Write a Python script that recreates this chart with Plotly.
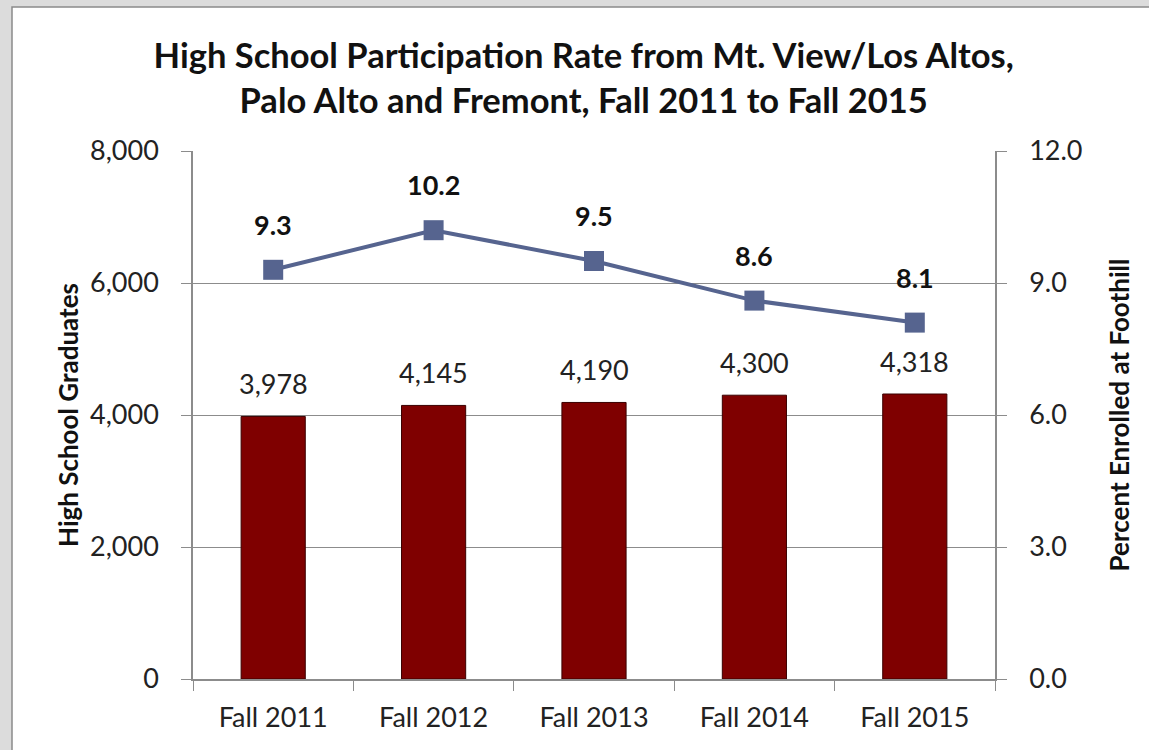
import plotly.graph_objects as go

# ---------------------------------------------------------------------------
# Data
# ---------------------------------------------------------------------------
terms = ["Fall 2011", "Fall 2012", "Fall 2013", "Fall 2014", "Fall 2015"]
graduates = [3978, 4145, 4190, 4300, 4318]
pct_enrolled = [9.3, 10.2, 9.5, 8.6, 8.1]

BAR = "#7f0000"
LINE = "#56648f"
GRID = "#8c8c8c"
FONT = "Lato"

W, H = 1149, 750
L, R, T, B = 193, 154, 151, 71
pw, ph = W - L - R, H - T - B

fig = go.Figure()

fig.add_trace(go.Bar(
    x=terms, y=graduates,
    width=0.4,
    marker=dict(color=BAR, line=dict(color="#3a0000", width=1)),
    yaxis="y",
    showlegend=False,
))

fig.add_trace(go.Scatter(
    x=terms, y=pct_enrolled,
    mode="lines+markers",
    line=dict(color=LINE, width=4),
    marker=dict(symbol="square", size=20, color=LINE),
    yaxis="y2",
    showlegend=False,
))

# data labels
for t, g in zip(terms, graduates):
    fig.add_annotation(x=t, y=g, xref="x", yref="y", text=f"{g:,}",
                       showarrow=False, yanchor="bottom", yshift=14,
                       font=dict(family=FONT, size=27, color="#222"))
for t, p in zip(terms, pct_enrolled):
    fig.add_annotation(x=t, y=p, xref="x", yref="y2", text=f"{p:.1f}",
                       showarrow=False, yanchor="bottom", yshift=27,
                       font=dict(family=FONT, size=27, color="#111", weight="bold"))

# white chart panel over the grey surround
fig.add_shape(
    type="rect", xref="paper", yref="paper", layer="below",
    x0=(12 - L) / pw, x1=(W + 5 - L) / pw,
    y0=-(B + 5) / ph, y1=(ph + T - 7) / ph,
    fillcolor="white", line=dict(color="#8a8a8a", width=1.5),
)

fig.update_layout(
    width=W, height=H,
    margin=dict(l=L, r=R, t=T, b=B),
    paper_bgcolor="#dcdcdc",
    plot_bgcolor="rgba(0,0,0,0)",
    font=dict(family=FONT, size=27, color="#222"),
    title=dict(
        text="High School Participation Rate from Mt. View/Los Altos,<br>"
             "Palo Alto and Fremont, Fall 2011 to Fall 2015",
        x=0.508, xanchor="center", y=1 - 68 / H, yanchor="middle",
        font=dict(family=FONT, size=34.5, color="#111", weight="bold"),
    ),
    xaxis=dict(
        showline=True, linecolor=GRID, linewidth=1.5,
        ticks="outside", ticklen=10, tickcolor=GRID,
        tickson="boundaries", showgrid=False,
        ticklabelstandoff=14,
        tickfont=dict(size=27),
    ),
    yaxis=dict(
        range=[0, 8000], tickvals=[0, 2000, 4000, 6000, 8000],
        tickformat=",d",
        showline=True, linecolor=GRID, linewidth=1.5,
        ticks="outside", ticklen=10, tickcolor=GRID,
        showgrid=True, gridcolor=GRID, gridwidth=1.2,
        zeroline=False, ticklabelstandoff=17,
        title=dict(text="High School Graduates", standoff=4,
                   font=dict(size=26, weight="bold", color="#111")),
        tickfont=dict(size=27),
    ),
    yaxis2=dict(
        overlaying="y", side="right",
        range=[0, 12], tickvals=[0, 3, 6, 9, 12], tickformat=".1f",
        showline=True, linecolor=GRID, linewidth=1.5,
        ticks="outside", ticklen=10, tickcolor=GRID,
        showgrid=False, zeroline=False, ticklabelstandoff=17,
        title=dict(text="Percent Enrolled at Foothill", standoff=29,
                   font=dict(size=26, weight="bold", color="#111")),
        tickfont=dict(size=27),
    ),
)

fig.write_html("out.html", config={"displayModeBar": False},
               post_script="document.body.style.margin='0';")
